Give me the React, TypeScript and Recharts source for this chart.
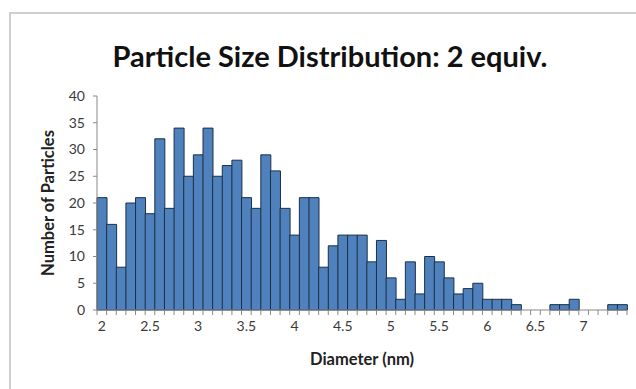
import { BarChart, Bar, XAxis, YAxis } from 'recharts';

// Histogram bins (nm) and particle counts
const diameters = [
  '2', '2.1', '2.2', '2.3', '2.4', '2.5', '2.6', '2.7', '2.8', '2.9',
  '3', '3.1', '3.2', '3.3', '3.4', '3.5', '3.6', '3.7', '3.8', '3.9',
  '4', '4.1', '4.2', '4.3', '4.4', '4.5', '4.6', '4.7', '4.8', '4.9',
  '5', '5.1', '5.2', '5.3', '5.4', '5.5', '5.6', '5.7', '5.8', '5.9',
  '6', '6.1', '6.2', '6.3', '6.4', '6.5', '6.6', '6.7', '6.8', '6.9',
  '7', '7.1', '7.2', '7.3', '7.4',
];
const counts = [
  21, 16, 8, 20, 21, 18, 32, 19, 34, 25,
  29, 34, 25, 27, 28, 21, 19, 29, 26, 19,
  14, 21, 21, 8, 12, 14, 14, 14, 9, 13,
  6, 2, 9, 3, 10, 9, 6, 3, 4, 5,
  2, 2, 2, 1, 0, 0, 0, 1, 1, 2,
  0, 0, 0, 1, 1,
];
const yTicks = [0, 5, 10, 15, 20, 25, 30, 35, 40];

const data = diameters.map((d, i) => ({ d, n: counts[i] }));

const FONT = 'Lato, "Open Sans", sans-serif';
const TEXT = '#3a3a3a';

function XTick(props: any) {
  const { x, y, payload, index, visibleTicksCount, width } = props;
  const band = (width || 530) / (visibleTicksCount || 55);
  const left = x - band / 2;
  return (
    <g>
      <line x1={left} y1={y - 8} x2={left} y2={y - 3} stroke="#888" />
      {index === visibleTicksCount - 1 && (
        <line x1={left + band} y1={y - 8} x2={left + band} y2={y - 3} stroke="#888" />
      )}
      {index % 5 === 0 && (
        <text x={x} y={y + 13} textAnchor="middle" fontSize={14} fill={TEXT} fontFamily={FONT}>
          {payload.value}
        </text>
      )}
    </g>
  );
}

export default function App() {
  return (
    <div style={{ position: 'absolute', left: 0, top: 0, width: 636, height: 389, background: '#fff', overflow: 'hidden' }}>
      <div
        style={{
          position: 'absolute', left: 9, top: 12, width: 640, height: 400,
          borderLeft: '2px solid #cfcfcf', borderTop: '2px solid #cfcfcf',
        }}
      />
      <div
        style={{
          position: 'absolute', left: 0, top: 38, width: 660, textAlign: 'center',
          fontFamily: FONT, fontWeight: 700, fontSize: 29, color: '#111',
        }}
      >
        Particle Size Distribution: 2 equiv.
      </div>
      <div style={{ position: 'absolute', left: 0, top: 0 }}>
        <BarChart
          width={636}
          height={389}
          data={data}
          margin={{ top: 96, right: 9, bottom: 0, left: 0 }}
          barCategoryGap={0}
        >
          <XAxis
            dataKey="d"
            interval={0}
            height={79}
            tickLine={false}
            axisLine={{ stroke: '#888' }}
            tick={<XTick />}
            label={{
              value: 'Diameter (nm)', position: 'insideBottom', offset: 24,
              style: { fontFamily: FONT, fontWeight: 700, fontSize: 16.5, fill: '#222' },
            }}
          />
          <YAxis
            width={97}
            domain={[0, 40]}
            ticks={yTicks}
            interval={0}
            tickSize={4}
            tickMargin={8}
            tickLine={{ stroke: '#888' }}
            axisLine={{ stroke: '#888' }}
            tick={{ fontSize: 14, fill: TEXT, fontFamily: FONT }}
            label={{
              value: 'Number of Particles', angle: -90, position: 'insideLeft', offset: 48,
              style: { textAnchor: 'middle', fontFamily: FONT, fontWeight: 700, fontSize: 16.5, fill: '#222' },
            }}
          />
          <Bar dataKey="n" fill="#4f81bd" stroke="#1c2f47" strokeWidth={1} isAnimationActive={false} />
        </BarChart>
      </div>
    </div>
  );
}
